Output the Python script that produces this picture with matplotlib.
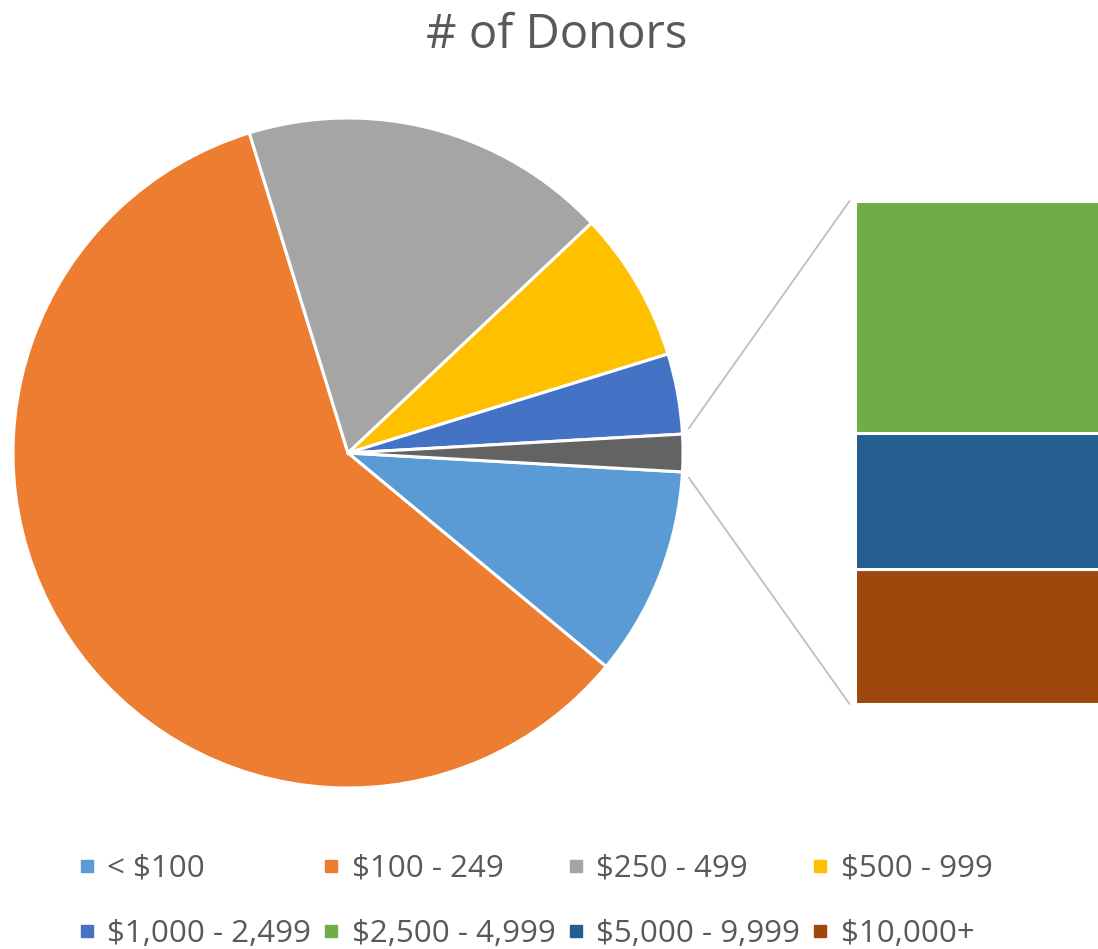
import numpy as np
import matplotlib.pyplot as plt
from matplotlib.patches import ConnectionPatch
from matplotlib.lines import Line2D

# donor counts per gift range
pie_labels = ["< $100", "$100 - 249", "$250 - 499", "$500 - 999", "$1,000 - 2,499"]
pie_counts = [146, 856, 256, 105, 56]
pie_colors = ["#5B9BD5", "#ED7D31", "#A5A5A5", "#FFC000", "#4472C4"]

# the small ranges are pulled out into the bar
bar_labels = ["$2,500 - 4,999", "$5,000 - 9,999", "$10,000+"]
bar_counts = [12, 7, 7]
bar_colors = ["#70AD47", "#255E91", "#9E480E"]
other_color = "#636363"

text_color = "#595959"
plt.rcParams['font.family'] = ['Open Sans', 'DejaVu Sans']

W, H = 1098, 949
fig = plt.figure(figsize=(W / 100, H / 100), dpi=100)

def px_axes(x0, y0, x1, y1):
    # axes from pixel box (top-left origin)
    return fig.add_axes([x0 / W, 1 - y1 / H, (x1 - x0) / W, (y1 - y0) / H])

other = sum(bar_counts)
total = sum(pie_counts) + other
other_ang = 360.0 * other / total

# main pie, "Other" slice centred on 3 o'clock
ax = px_axes(13, 118, 683, 788)
ax.pie(pie_counts + [other], colors=pie_colors + [other_color],
       startangle=-other_ang / 2, counterclock=False, radius=1,
       wedgeprops=dict(edgecolor="white", linewidth=2.2))
ax.set_xlim(-1, 1)
ax.set_ylim(-1, 1)
ax.axis("off")

# stacked bar for the breakdown of "Other"
ax2 = px_axes(855, 201, 1160, 704)
bottom = 0
for lab, cnt, col in zip(bar_labels[::-1], bar_counts[::-1], bar_colors[::-1]):
    ax2.bar(0.5, cnt, width=1, bottom=bottom, color=col,
            edgecolor="white", linewidth=2.2)
    bottom += cnt
ax2.set_xlim(0, 1)
ax2.set_ylim(0, other)
ax2.axis("off")

# connector lines from the pie slice to the bar
for sign, yb in [(1, other), (-1, 0)]:
    a = np.deg2rad(sign * (other_ang / 2 + 0.9))
    con = ConnectionPatch(xyA=(1.02 * np.cos(a), 1.02 * np.sin(a)), coordsA=ax.transData,
                          xyB=(-0.018, yb), coordsB=ax2.transData,
                          color="#BFBFBF", linewidth=1.3)
    fig.add_artist(con)

fig.text(557 / W, 1 - 35 / H, "# of Donors", ha="center", va="center",
         fontsize=34, color=text_color)

labels = pie_labels + bar_labels
colors = pie_colors + bar_colors
order = [0, 4, 1, 5, 2, 6, 3, 7]
handles = [Line2D([], [], marker="s", linestyle="none", markersize=8,
                  markerfacecolor=colors[i], markeredgecolor=colors[i]) for i in order]
leg = fig.legend(handles, [labels[i] for i in order], ncol=4, frameon=False,
                 loc="center left", bbox_to_anchor=(76 / W, 1 - 901 / H),
                 fontsize=22.5, labelcolor=text_color, handlelength=0.7,
                 handletextpad=0.3, columnspacing=0.3, labelspacing=1.12,
                 borderpad=0, borderaxespad=0)

fig.savefig("out.png", dpi=100, facecolor="white")
